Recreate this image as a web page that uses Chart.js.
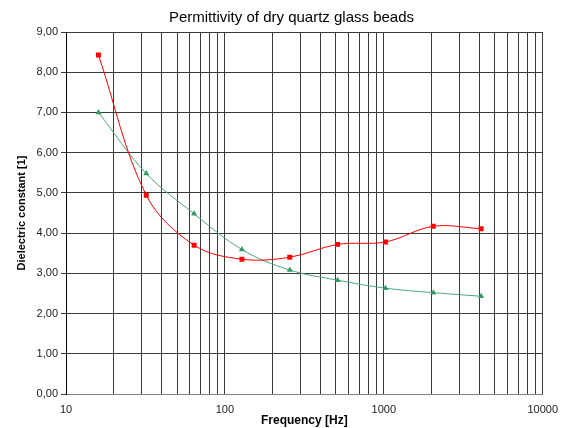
<!DOCTYPE html>
<html>
<head>
<meta charset="utf-8">
<title>Permittivity of dry quartz glass beads</title>
<script src="https://cdn.jsdelivr.net/npm/chart.js@4"></script>
<style>
  html, body { margin: 0; padding: 0; background: #fff; }
  canvas { display: block; }
</style>
</head>
<body>
<canvas id="chart" width="567" height="428"></canvas>
<script>
// measured frequencies [Hz] and dielectric constant of the two samples
const frequencies = [16, 32, 64, 128, 256, 512, 1024, 2048, 4096];
const seriesRed = [8.43, 4.94, 3.70, 3.35, 3.40, 3.72, 3.78, 4.17, 4.11];
const seriesGreen = [7.00, 5.48, 4.48, 3.59, 3.08, 2.83, 2.63, 2.52, 2.43];

// log grid: 1..9 in every decade from 10 to 10000
const xTicks = [];
for (let d = 10; d < 10000; d *= 10) {
  for (let k = 1; k < 10; k++) xTicks.push(d * k);
}
xTicks.push(10000);
const xLabels = [10, 100, 1000, 10000];

const titleText = 'Permittivity of dry quartz glass beads';
const fontFamily = "'Liberation Sans', Arial, sans-serif";

Chart.defaults.font.family = fontFamily;
Chart.defaults.color = '#000';

const toPoints = (ys) => frequencies.map((f, i) => ({x: f, y: ys[i]}));

// chart title, placed a bit left of the plot centre
const chartTitle = {
  id: 'chartTitle',
  afterDraw(chart) {
    const {ctx} = chart;
    ctx.save();
    ctx.font = '15px ' + fontFamily;
    ctx.fillStyle = '#000';
    ctx.textAlign = 'center';
    ctx.textBaseline = 'middle';
    ctx.fillText(titleText, 291.5, 18);
    ctx.restore();
  }
};

const ctx = document.getElementById('chart');

const chart = new Chart(ctx, {
  type: 'line',
  data: {
    datasets: [
      {
        label: 'red',
        data: toPoints(seriesRed),
        borderColor: '#ff0000',
        backgroundColor: '#ff0000',
        borderWidth: 1,
        pointStyle: 'rect',
        pointRadius: 3.5,
        pointBorderWidth: 0,
        tension: 0.35
      },
      {
        label: 'green',
        data: toPoints(seriesGreen),
        borderColor: '#4fa87e',
        backgroundColor: '#339966',
        borderWidth: 1,
        pointStyle: 'triangle',
        pointRadius: 3.5,
        pointBorderWidth: 0,
        tension: 0.35
      }
    ]
  },
  options: {
    responsive: false,
    animation: false,
    devicePixelRatio: 1,
    layout: {
      padding: {left: 0, right: 24, top: 32, bottom: 0}
    },
    plugins: {
      legend: {display: false},
      tooltip: {enabled: false},
      title: {display: false}
    },
    scales: {
      x: {
        type: 'logarithmic',
        min: 10,
        max: 10000,
        afterBuildTicks: (scale) => {
          scale.ticks = xTicks.map(v => ({value: v}));
        },
        afterFit: (scale) => { scale.height = 34; },
        grid: {
          color: '#3a3a3a',
          lineWidth: 1,
          drawTicks: false
        },
        border: {color: '#808080'},
        ticks: {
          autoSkip: false,
          maxRotation: 0,
          minRotation: 0,
          padding: 9,
          color: '#222',
          font: {size: 11},
          callback: (value) => xLabels.includes(value) ? String(value) : ''
        },
        title: {
          display: true,
          text: 'Frequency [Hz]',
          font: {size: 12, weight: 'bold'},
          padding: {top: 3, bottom: 0}
        }
      },
      y: {
        min: 0,
        max: 9,
        afterFit: (scale) => { scale.width = 66; },
        grid: {
          color: '#3a3a3a',
          lineWidth: 1,
          tickLength: 5
        },
        border: {color: '#000'},
        ticks: {
          stepSize: 1,
          padding: 3,
          color: '#222',
          font: {size: 11},
          callback: (value) => value.toFixed(2).replace('.', ',')
        },
        title: {
          display: true,
          text: 'Dielectric constant [1]',
          font: {size: 11, weight: 'bold'},
          padding: {top: 15, bottom: 0}
        }
      }
    }
  },
  plugins: [chartTitle]
});
</script>
</body>
</html>
